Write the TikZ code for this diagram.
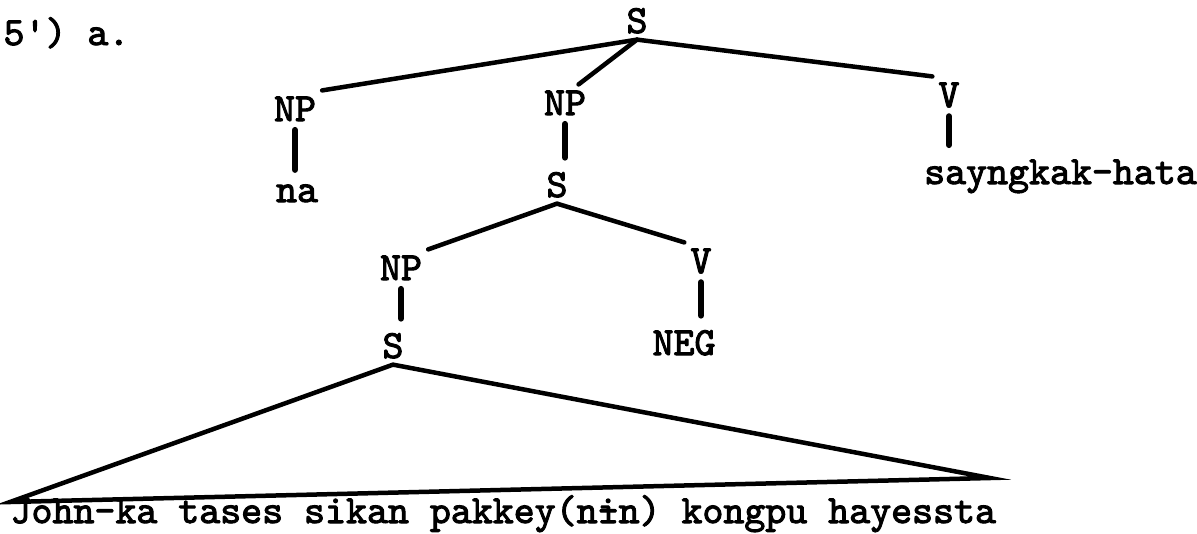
\documentclass[tikz,border=0pt]{standalone}
\usepackage{fontspec}
\setmonofont{lmmono10-regular}[Extension=.otf, AutoFakeBold=2.5]
\usetikzlibrary{calc}
% barred i for the terminal string
\newcommand{\barri}{\rlap{i}-}

\begin{document}
\begin{tikzpicture}[x=0.0125cm, y=-0.0125cm,
    every node/.style={font=\ttfamily\bfseries\fontsize{14.2}{16}\selectfont, inner sep=2pt},
    branch/.style={line width=1.6pt, line cap=round},
    unary/.style={line width=2.2pt, line cap=round, shorten <=1pt, shorten >=3pt}]
  \useasboundingbox (0,0) rectangle (1197,533);
  % example label
  \node[anchor=base west, inner sep=0pt] (ex) at (3,45) {5') a.};
  % top level
  \node[anchor=base] (s0) at (637,33) {S};
  \node[anchor=base] (np1) at (295,121) {NP};
  \node[anchor=base] (np2) at (565,115) {NP};
  \node[anchor=base] (v1) at (949,107) {V};
  \node[anchor=base] (na) at (297,202) {na};
  \node[anchor=base west] (pred) at (918,184) {sayngkak-hata};
  % embedded clause
  \node[anchor=base] (s1) at (557,197) {S};
  \node[anchor=base] (np3) at (401,280) {NP};
  \node[anchor=base] (v2) at (701,273) {V};
  \node[anchor=base] (s2) at (393,358) {S};
  \node[anchor=base] (neg) at (684,355) {NEG};
  % terminal string
  \node[anchor=base west, inner sep=0pt] (str) at (10,523) {John-ka tases sikan pakkey(n\barri n) kongpu hayessta};
  \coordinate (tl) at (10,502);
  \coordinate (tr) at (990,478);
  % branches
  \draw[branch] (s0.south) -- (np1.north east);
  \draw[branch] (s0.south) -- ($(np2.north)!0.5!(np2.north east)$);
  \draw[branch] (s0.south) -- (v1.north west);
  \draw[branch] (s1.south) -- (np3.north east);
  \draw[branch] (s1.south) -- (v2.north west);
  \draw[branch] (s2.south) -- (tl) -- (tr) -- cycle;
  % unary bars
  \draw[unary] (np1.south) -- (np1.south |- na.north);
  \draw[unary] (np2.south) -- (np2.south |- s1.north);
  \draw[unary] (v1.south) -- (v1.south |- pred.north);
  \draw[unary] (np3.south) -- (np3.south |- s2.north);
  \draw[unary] (v2.south) -- (v2.south |- neg.north);
\end{tikzpicture}
\end{document}
